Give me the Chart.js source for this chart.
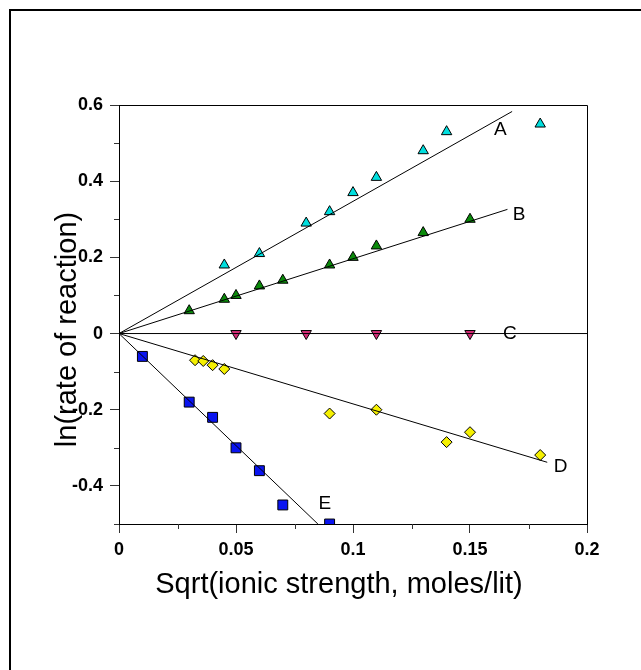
<!DOCTYPE html>
<html>
<head>
<meta charset="utf-8">
<script src="https://cdn.jsdelivr.net/npm/chart.js@4/dist/chart.umd.min.js"></script>
<style>
  html, body { margin: 0; padding: 0; background: #fff; }
  #graph { display: block; }
</style>
</head>
<body>
<canvas id="graph" width="641" height="670"></canvas>
<script>
const xA = [0.045, 0.06, 0.08, 0.09, 0.10, 0.11, 0.13, 0.14, 0.18];
const yA = [0.18, 0.21, 0.29, 0.32, 0.37, 0.41, 0.48, 0.53, 0.55];

const xB = [0.03, 0.045, 0.05, 0.06, 0.07, 0.09, 0.10, 0.11, 0.13, 0.15];
const yB = [0.06, 0.09, 0.10, 0.125, 0.14, 0.18, 0.20, 0.23, 0.265, 0.30];

const xC = [0.05, 0.08, 0.11, 0.15];
const yC = [0, 0, 0, 0];

const xD = [0.0325, 0.036, 0.040, 0.045, 0.09, 0.11, 0.14, 0.15, 0.18];
const yD = [-0.07, -0.072, -0.083, -0.093, -0.21, -0.20, -0.285, -0.259, -0.319];

const xE = [0.01, 0.03, 0.04, 0.05, 0.06, 0.07, 0.09];
const yE = [-0.06, -0.18, -0.22, -0.30, -0.36, -0.45, -0.50];

// fitted lines (start, end) per series
const fitX = { A: [0, 0.168], B: [0, 0.166], C: [0, 0.2], D: [0, 0.183], E: [0, 0.085] };
const fitY = { A: [0, 0.583], B: [0, 0.326], C: [0, 0], D: [0, -0.338], E: [0, -0.5] };

// curve label anchors
const labelNames = ['A', 'B', 'C', 'D', 'E'];
const labelX = [0.163, 0.171, 0.167, 0.1887, 0.088];
const labelY = [0.535, 0.311, 0, -0.350, -0.446];

const xTitle = 'Sqrt(ionic strength, moles/lit)';
const yTitle = 'ln(rate of reaction)';

const FONT = '"Liberation Sans", Arial, Helvetica, sans-serif';

const pts = (xs, ys) => xs.map((x, i) => ({ x: x, y: ys[i] }));

function markers(xs, ys, color, style, radius, rotation) {
  return {
    data: pts(xs, ys),
    showLine: false,
    pointStyle: style,
    pointRadius: radius,
    pointHoverRadius: radius,
    pointRotation: rotation || 0,
    pointBackgroundColor: color,
    pointBorderColor: '#000',
    pointBorderWidth: 1
  };
}

function fitLine(key) {
  return {
    data: pts(fitX[key], fitY[key]),
    showLine: true,
    borderColor: '#000',
    borderWidth: 1,
    pointRadius: 0,
    fill: false
  };
}

const fmt = v => parseFloat(v.toFixed(3)).toString();

const decor = {
  id: 'decor',
  beforeDraw(chart) {
    const ctx = chart.ctx;
    ctx.save();
    ctx.fillStyle = '#fff';
    ctx.fillRect(0, 0, chart.width, chart.height);
    ctx.restore();
  },
  afterDraw(chart) {
    const { ctx, chartArea: a, scales } = chart;
    const x = scales.x, y = scales.y;
    ctx.save();

    // top and right edges of the plot box
    ctx.strokeStyle = '#000';
    ctx.lineWidth = 1;
    ctx.beginPath();
    ctx.moveTo(a.left, a.top + 0.5);
    ctx.lineTo(a.right + 0.5, a.top + 0.5);
    ctx.lineTo(a.right + 0.5, a.bottom);
    ctx.stroke();

    // minor ticks
    ctx.strokeStyle = '#333';
    ctx.beginPath();
    x.ticks.forEach(t => {
      if (Math.round(t.value * 40) % 2 !== 0) {
        const px = Math.round(x.getPixelForValue(t.value)) + 0.5;
        ctx.moveTo(px, a.bottom);
        ctx.lineTo(px, a.bottom + 5);
      }
    });
    y.ticks.forEach(t => {
      if (Math.round(t.value * 10) % 2 !== 0) {
        const py = Math.round(y.getPixelForValue(t.value)) + 0.5;
        ctx.moveTo(a.left, py);
        ctx.lineTo(a.left - 5, py);
      }
    });
    ctx.stroke();

    // curve labels
    ctx.fillStyle = '#000';
    ctx.font = '19px ' + FONT;
    ctx.textAlign = 'center';
    ctx.textBaseline = 'middle';
    labelNames.forEach((n, i) => {
      ctx.fillText(n, x.getPixelForValue(labelX[i]), y.getPixelForValue(labelY[i]));
    });

    // axis titles
    ctx.font = '29px ' + FONT;
    ctx.textBaseline = 'alphabetic';
    ctx.fillText(xTitle, (a.left + a.right) / 2 - 14, 593);
    ctx.save();
    ctx.translate(76, (a.top + a.bottom) / 2 + 15);
    ctx.rotate(-Math.PI / 2);
    ctx.fillText(yTitle, 0, 0);
    ctx.restore();

    // outer frame (top and left edges only)
    ctx.fillStyle = '#000';
    ctx.fillRect(9, 9, chart.width - 9, 2);
    ctx.fillRect(9, 9, 2, chart.height - 9);

    ctx.restore();
  }
};

new Chart(document.getElementById('graph').getContext('2d'), {
  type: 'scatter',
  data: {
    datasets: [
      fitLine('A'), fitLine('B'), fitLine('C'), fitLine('D'), fitLine('E'),
      markers(xA, yA, '#00dede', 'triangle', 6),
      markers(xB, yB, '#0a8a0a', 'triangle', 6),
      markers(xC, yC, '#d42c76', 'triangle', 6, 180),
      markers(xD, yD, '#f5f000', 'rectRot', 5.5),
      markers(xE, yE, '#0a14f0', 'rect', 7)
    ]
  },
  options: {
    responsive: false,
    animation: false,
    layout: { padding: { left: 0, top: 105, right: 54, bottom: 0 } },
    plugins: {
      legend: { display: false },
      tooltip: { enabled: false }
    },
    scales: {
      x: {
        type: 'linear',
        min: 0,
        max: 0.2,
        afterFit: s => { s.height = 146; },
        border: { display: true, color: '#000', width: 1 },
        grid: {
          drawOnChartArea: false,
          drawTicks: true,
          tickLength: 9,
          tickColor: c => (Math.round(c.tick.value * 40) % 2 === 0 ? '#333' : 'rgba(0,0,0,0)')
        },
        ticks: {
          stepSize: 0.025,
          autoSkip: false,
          maxRotation: 0,
          padding: 6,
          color: '#000',
          font: { family: FONT, size: 18, weight: 'bold' },
          callback: v => (Math.round(v * 40) % 2 === 0 ? fmt(v) : '')
        }
      },
      y: {
        type: 'linear',
        min: -0.5,
        max: 0.6,
        afterFit: s => { s.width = 119; },
        border: { display: true, color: '#000', width: 1 },
        grid: {
          drawOnChartArea: false,
          drawTicks: true,
          tickLength: 9,
          tickColor: c => (Math.round(c.tick.value * 10) % 2 === 0 ? '#333' : 'rgba(0,0,0,0)')
        },
        ticks: {
          stepSize: 0.1,
          autoSkip: false,
          padding: 7,
          color: '#000',
          font: { family: FONT, size: 18, weight: 'bold' },
          callback: v => (Math.round(v * 10) % 2 === 0 ? fmt(v) : '')
        }
      }
    }
  },
  plugins: [decor]
});
</script>
</body>
</html>
